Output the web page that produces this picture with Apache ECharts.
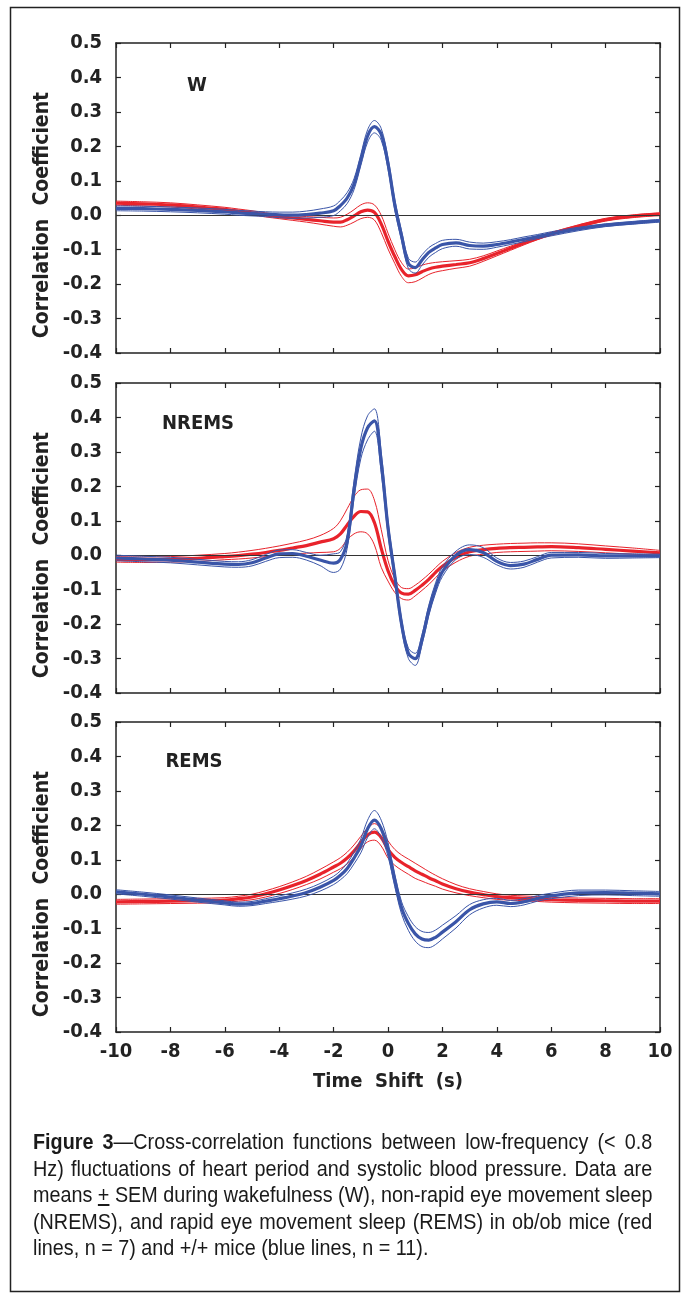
<!DOCTYPE html>
<html>
<head>
<meta charset="utf-8">
<script src="https://cdn.jsdelivr.net/npm/echarts@6/dist/echarts.min.js"></script>
<style>
  html, body { margin: 0; padding: 0; background: #fff; }
  #wrap { position: relative; width: 686px; height: 1296px; }
  #chart { position: absolute; left: 0; top: 0; width: 686px; height: 1296px; }
  #caption {
    position: absolute; left: 33px; top: 1129px; width: 673px;
    transform: scaleX(0.92); transform-origin: 0 0;
    font-family: "Liberation Sans", Arial, sans-serif;
    font-size: 21.5px; color: #1a1a1a;
  }
  #caption div { height: 26.6px; line-height: 26.6px; text-align: justify; text-align-last: justify; white-space: nowrap; }
  #caption div.last { text-align-last: left; }
</style>
</head>
<body>
<div id="wrap">
  <div id="chart"></div>
  <div id="caption">
    <div><b>Figure 3</b>—Cross-correlation functions between low-frequency (&lt; 0.8</div>
    <div>Hz) fluctuations of heart period and systolic blood pressure. Data are</div>
    <div>means <u>+</u> SEM during wakefulness (W), non-rapid eye movement sleep</div>
    <div>(NREMS), and rapid eye movement sleep (REMS) in ob/ob mice (red</div>
    <div class="last">lines, n = 7) and +/+ mice (blue lines, n = 11).</div>
  </div>
</div>
<script>
// time shift (s) sample points, shared by all curves
var times = [-10,-9,-8,-7,-6,-5.5,-5,-4.5,-4,-3.5,-3,-2.5,-2,-1.75,-1.5,-1.25,-1,-0.75,-0.5,-0.25,0,0.25,0.5,0.75,1,1.25,1.5,1.75,2,2.5,3,3.5,4,4.5,5,5.5,6,7,8,9,10];
var xTicks = [-10,-8,-6,-4,-2,0,2,4,6,8,10];
var yTicks = [-0.4,-0.3,-0.2,-0.1,0,0.1,0.2,0.3,0.4,0.5];
var panelNames = ['W', 'NREMS', 'REMS'];

// W (wakefulness)
var wBlueMean = [0.02,0.019,0.017,0.014,0.01,0.007,0.005,0.003,0.001,0.0,0.002,0.006,0.013,0.028,0.05,0.09,0.16,0.23,0.257,0.235,0.15,0.03,-0.06,-0.14,-0.152,-0.13,-0.108,-0.095,-0.085,-0.08,-0.088,-0.09,-0.085,-0.078,-0.07,-0.062,-0.054,-0.04,-0.029,-0.022,-0.016];
var wBlueUp = [0.027,0.026,0.024,0.021,0.017,0.014,0.012,0.01,0.009,0.009,0.012,0.018,0.027,0.043,0.066,0.106,0.176,0.248,0.275,0.252,0.166,0.045,-0.046,-0.125,-0.136,-0.115,-0.094,-0.082,-0.073,-0.07,-0.078,-0.081,-0.077,-0.071,-0.063,-0.056,-0.048,-0.035,-0.025,-0.018,-0.012];
var wBlueLo = [0.013,0.012,0.01,0.007,0.003,0.0,-0.002,-0.004,-0.007,-0.009,-0.008,-0.006,-0.001,0.013,0.034,0.074,0.144,0.212,0.239,0.218,0.134,0.015,-0.074,-0.155,-0.168,-0.145,-0.122,-0.108,-0.097,-0.09,-0.098,-0.099,-0.093,-0.085,-0.077,-0.068,-0.06,-0.045,-0.033,-0.026,-0.02];
var wRedMean = [0.035,0.033,0.03,0.024,0.017,0.012,0.007,0.001,-0.004,-0.008,-0.012,-0.016,-0.02,-0.02,-0.013,-0.002,0.01,0.015,0.008,-0.025,-0.075,-0.12,-0.158,-0.176,-0.173,-0.164,-0.156,-0.151,-0.148,-0.143,-0.138,-0.126,-0.111,-0.096,-0.081,-0.067,-0.054,-0.032,-0.013,-0.003,0.003];
var wRedUp = [0.041,0.039,0.036,0.03,0.023,0.018,0.013,0.007,0.002,-0.001,-0.004,-0.006,-0.008,-0.006,0.003,0.016,0.03,0.036,0.03,0.0,-0.052,-0.1,-0.138,-0.156,-0.153,-0.145,-0.14,-0.137,-0.135,-0.132,-0.128,-0.118,-0.104,-0.09,-0.076,-0.063,-0.05,-0.028,-0.009,0.001,0.007];
var wRedLo = [0.029,0.027,0.024,0.018,0.011,0.006,0.001,-0.005,-0.01,-0.015,-0.02,-0.026,-0.032,-0.034,-0.029,-0.02,-0.01,-0.006,-0.014,-0.05,-0.098,-0.14,-0.178,-0.196,-0.193,-0.183,-0.172,-0.165,-0.161,-0.154,-0.148,-0.134,-0.118,-0.102,-0.086,-0.071,-0.058,-0.036,-0.017,-0.007,-0.001];

// NREMS
var nBlueMean = [-0.008,-0.011,-0.014,-0.02,-0.026,-0.027,-0.022,-0.008,0.004,0.005,-0.003,-0.014,-0.023,-0.012,0.04,0.19,0.31,0.37,0.39,0.27,0.08,-0.06,-0.2,-0.285,-0.3,-0.245,-0.16,-0.095,-0.048,0.0,0.016,0.008,-0.018,-0.03,-0.026,-0.012,0.0,0.001,-0.002,-0.002,-0.002];
var nBlueUp = [0.0,-0.003,-0.006,-0.012,-0.018,-0.019,-0.013,0.002,0.015,0.016,0.008,0.0,0.004,0.01,0.06,0.215,0.34,0.405,0.425,0.3,0.1,-0.045,-0.185,-0.27,-0.285,-0.23,-0.145,-0.08,-0.034,0.012,0.03,0.022,-0.008,-0.021,-0.017,-0.004,0.008,0.008,0.005,0.004,0.003];
var nBlueLo = [-0.016,-0.019,-0.022,-0.028,-0.034,-0.035,-0.031,-0.018,-0.007,-0.006,-0.014,-0.03,-0.05,-0.04,0.02,0.165,0.28,0.335,0.36,0.24,0.06,-0.075,-0.215,-0.3,-0.32,-0.26,-0.175,-0.11,-0.062,-0.012,0.002,-0.006,-0.028,-0.04,-0.035,-0.02,-0.008,-0.006,-0.009,-0.008,-0.007];
var nRedMean = [-0.012,-0.013,-0.012,-0.009,-0.004,-0.001,0.003,0.008,0.014,0.021,0.028,0.038,0.048,0.062,0.088,0.113,0.127,0.126,0.095,0.02,-0.045,-0.088,-0.11,-0.113,-0.102,-0.087,-0.07,-0.05,-0.032,-0.006,0.01,0.016,0.02,0.022,0.023,0.024,0.025,0.022,0.017,0.012,0.007];
var nRedUp = [-0.004,-0.005,-0.004,0.0,0.005,0.009,0.014,0.02,0.027,0.035,0.044,0.057,0.078,0.1,0.135,0.17,0.19,0.192,0.16,0.075,-0.015,-0.068,-0.094,-0.097,-0.087,-0.072,-0.055,-0.036,-0.018,0.008,0.023,0.029,0.032,0.034,0.035,0.036,0.036,0.033,0.027,0.021,0.014];
var nRedLo = [-0.02,-0.021,-0.02,-0.018,-0.013,-0.011,-0.008,-0.004,0.001,0.004,0.006,0.008,0.01,0.02,0.045,0.062,0.068,0.062,0.03,-0.035,-0.075,-0.108,-0.126,-0.13,-0.118,-0.102,-0.085,-0.065,-0.046,-0.02,-0.003,0.003,0.008,0.01,0.011,0.012,0.013,0.011,0.007,0.003,0.0];

// REMS
var rBlueMean = [0.007,0.0,-0.008,-0.017,-0.025,-0.029,-0.027,-0.02,-0.013,-0.005,0.005,0.02,0.04,0.055,0.075,0.105,0.14,0.19,0.215,0.19,0.13,0.04,-0.04,-0.085,-0.115,-0.13,-0.133,-0.125,-0.11,-0.08,-0.045,-0.028,-0.022,-0.027,-0.022,-0.012,-0.005,0.004,0.005,0.003,0.001];
var rBlueUp = [0.013,0.006,-0.002,-0.011,-0.019,-0.023,-0.021,-0.013,-0.005,0.004,0.015,0.031,0.052,0.068,0.09,0.122,0.16,0.215,0.243,0.215,0.15,0.058,-0.022,-0.065,-0.094,-0.108,-0.111,-0.104,-0.09,-0.062,-0.03,-0.016,-0.012,-0.018,-0.013,-0.004,0.003,0.012,0.012,0.01,0.008];
var rBlueLo = [0.001,-0.006,-0.014,-0.023,-0.031,-0.035,-0.033,-0.027,-0.021,-0.014,-0.005,0.009,0.028,0.042,0.06,0.088,0.12,0.165,0.19,0.165,0.11,0.022,-0.058,-0.105,-0.136,-0.152,-0.155,-0.146,-0.13,-0.098,-0.06,-0.04,-0.032,-0.036,-0.031,-0.02,-0.013,-0.004,-0.002,-0.004,-0.006];
var rRedMean = [-0.022,-0.021,-0.02,-0.019,-0.017,-0.013,-0.008,0.001,0.012,0.025,0.04,0.058,0.079,0.09,0.105,0.125,0.15,0.172,0.18,0.165,0.13,0.107,0.092,0.08,0.068,0.058,0.048,0.039,0.03,0.016,0.006,-0.001,-0.007,-0.01,-0.012,-0.014,-0.016,-0.018,-0.019,-0.02,-0.02];
var rRedUp = [-0.015,-0.014,-0.013,-0.012,-0.01,-0.006,0.0,0.01,0.022,0.036,0.052,0.072,0.094,0.106,0.122,0.143,0.168,0.192,0.205,0.19,0.155,0.13,0.114,0.102,0.09,0.078,0.066,0.055,0.045,0.028,0.016,0.008,0.001,-0.003,-0.005,-0.007,-0.009,-0.011,-0.012,-0.013,-0.013];
var rRedLo = [-0.029,-0.028,-0.027,-0.026,-0.024,-0.02,-0.016,-0.008,0.002,0.014,0.028,0.044,0.064,0.074,0.088,0.107,0.132,0.152,0.157,0.14,0.105,0.084,0.07,0.058,0.046,0.038,0.03,0.023,0.015,0.004,-0.004,-0.01,-0.015,-0.017,-0.019,-0.021,-0.023,-0.025,-0.026,-0.027,-0.027];

var RED = '#e8232b', BLUE = '#3a55a8', INK = '#222';
var NARROW = '"Liberation Sans Narrow", "Arial Narrow", "DejaVu Sans Condensed", sans-serif';

var panels = [
  {top: 43, red: [wRedUp, wRedLo, wRedMean], blue: [wBlueUp, wBlueLo, wBlueMean], label: [192, 71]},
  {top: 383, red: [nRedUp, nRedLo, nRedMean], blue: [nBlueUp, nBlueLo, nBlueMean], label: [193, 409]},
  {top: 722, red: [rRedUp, rRedLo, rRedMean], blue: [rBlueUp, rBlueLo, rBlueMean], label: [189, 747]}
];

function fmtY(v) { return Math.abs(v) < 1e-9 ? '0.0' : v.toFixed(1); }
function pairs(arr) { return times.map(function (t, k) { return [t, arr[k]]; }); }

var grid = [], xAxis = [], yAxis = [], series = [], title = [];
panels.forEach(function (p, i) {
  var last = i === panels.length - 1;
  grid.push({left: 116, right: 26, top: p.top, height: 310});
  var axLine = {show: true, onZero: false, lineStyle: {color: INK, width: 1.5}};
  var tick = {show: true, inside: true, length: 5, lineStyle: {color: INK, width: 1.2}};
  xAxis.push({
    gridIndex: i, type: 'value', min: xTicks[0], max: xTicks[xTicks.length - 1], interval: 2,
    axisLine: axLine, axisTick: tick, splitLine: {show: false},
    axisLabel: {show: last, margin: 10, color: INK, fontFamily: NARROW, fontWeight: 'bold', fontSize: 20},
    name: last ? 'Time  Shift  (s)' : '', nameLocation: 'middle', nameGap: 40,
    nameTextStyle: {color: INK, fontFamily: NARROW, fontWeight: 'bold', fontSize: 20}
  });
  xAxis.push({
    gridIndex: i, type: 'value', position: 'top', min: -10, max: 10, interval: 2,
    axisLine: axLine, axisTick: tick, splitLine: {show: false}, axisLabel: {show: false}
  });
  yAxis.push({
    gridIndex: i, type: 'value', min: yTicks[0], max: yTicks[yTicks.length - 1], interval: 0.1,
    axisLine: axLine, axisTick: tick, splitLine: {show: false},
    axisLabel: {formatter: fmtY, margin: 14, color: INK, fontFamily: NARROW, fontWeight: 'bold', fontSize: 20},
    name: 'Correlation  Coefficient', nameLocation: 'middle', nameGap: 63, nameMoveOverlap: false,
    nameTextStyle: {color: INK, fontFamily: NARROW, fontWeight: 'bold', fontSize: 21, padding: [0, 34, 0, 0]}
  });
  yAxis.push({
    gridIndex: i, type: 'value', position: 'right', min: -0.4, max: 0.5, interval: 0.1,
    axisLine: axLine, axisTick: tick, splitLine: {show: false}, axisLabel: {show: false}
  });
  title.push({
    text: panelNames[i], left: p.label[0], top: p.label[1], textAlign: 'center',
    textStyle: {color: INK, fontFamily: NARROW, fontWeight: 'bold', fontSize: 20}
  });

  var groups = [[p.red, RED], [p.blue, BLUE]];
  groups.forEach(function (g, gi) {
    g[0].forEach(function (arr, k) {
      var isMean = k === 2;
      var s = {
        type: 'line', xAxisIndex: 2 * i, yAxisIndex: 2 * i, data: pairs(arr),
        smooth: 0.35, showSymbol: false, silent: true, animation: false,
        lineStyle: {color: g[1], width: isMean ? 3.2 : 1},
        z: 3 + gi * 2 + (isMean ? 1 : 0)
      };
      if (gi === 0 && k === 0) {
        s.markLine = {
          silent: true, symbol: 'none', animation: false, label: {show: false},
          lineStyle: {color: '#333', width: 1.2, type: 'solid'},
          data: [{yAxis: 0}]
        };
      }
      series.push(s);
    });
  });
});

var chart = echarts.init(document.getElementById('chart'));
chart.setOption({
  animation: false,
  backgroundColor: '#fff',
  title: title,
  grid: grid,
  xAxis: xAxis,
  yAxis: yAxis,
  series: series,
  graphic: [{
    type: 'rect', silent: true,
    shape: {x: 10.5, y: 7.5, width: 669, height: 1284},
    style: {fill: null, stroke: '#222', lineWidth: 1.5}
  }]
});
</script>
</body>
</html>
